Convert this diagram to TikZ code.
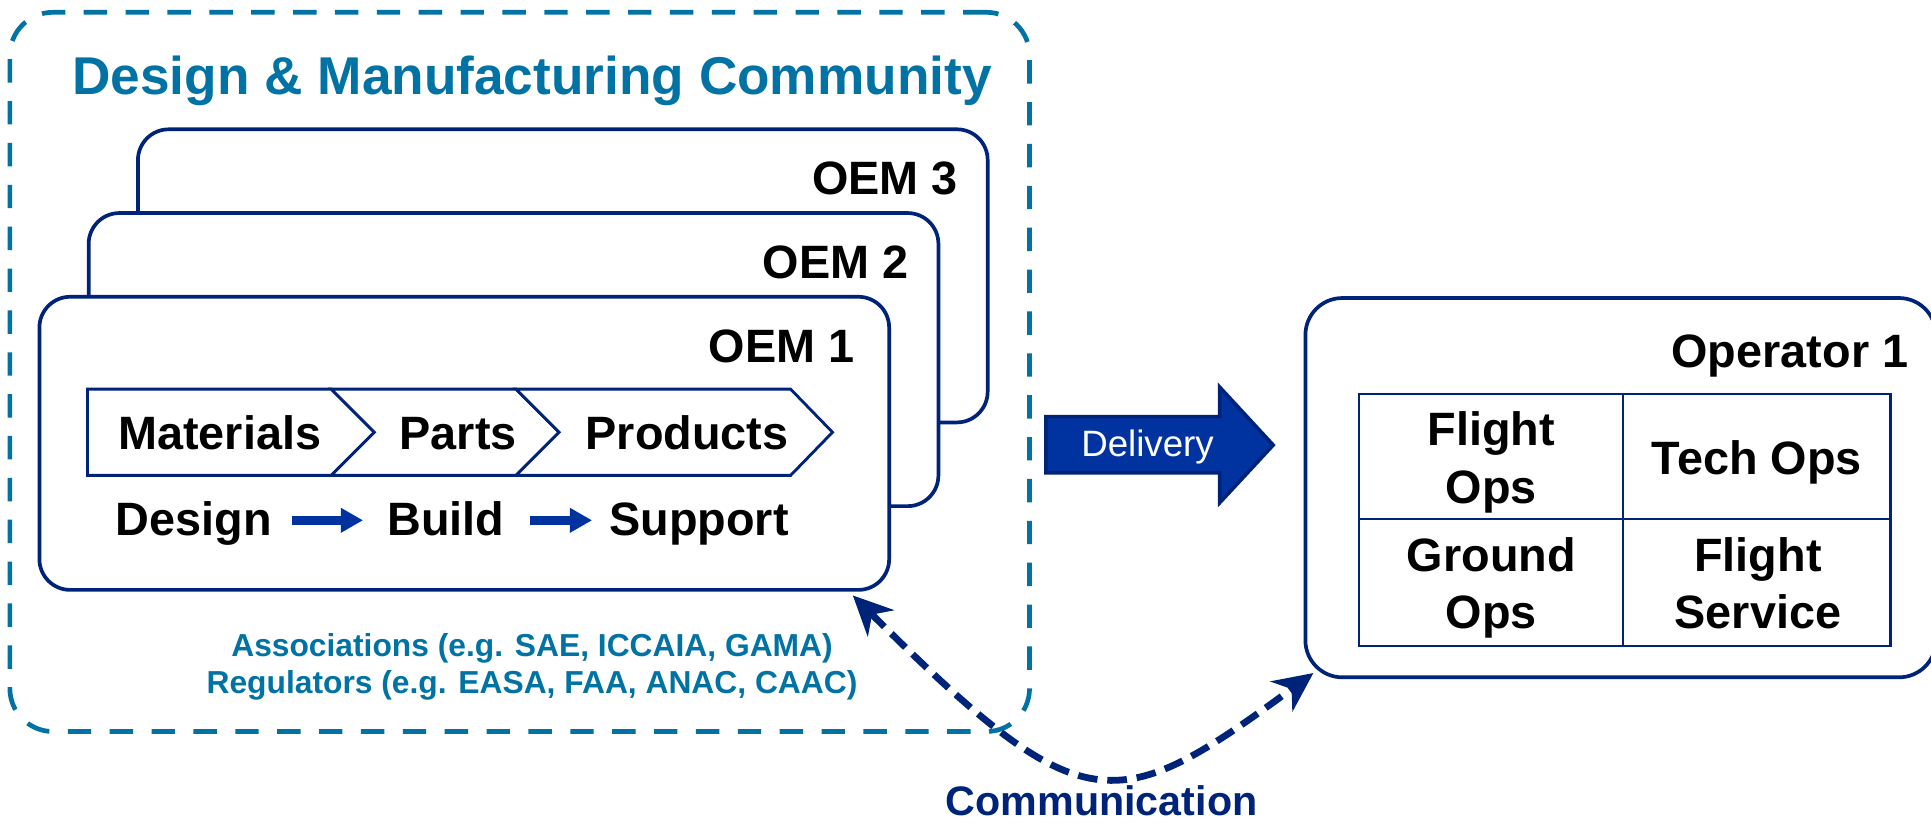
\documentclass[tikz,border=0pt]{standalone}
\usepackage{fontspec}
\setmainfont{Liberation Sans}
\usetikzlibrary{arrows.meta,calc}
\definecolor{dmteal}{HTML}{0072A3}
\definecolor{dmnavy}{HTML}{00237A}
\definecolor{dmblue}{HTML}{0033A0}
\newcommand\mystrut{\rule[-10pt]{0pt}{40pt}}
\tikzset{
  dashbox/.style={draw=dmteal, line width=3.8pt, dash pattern=on 19pt off 15pt, rounded corners=35pt,
    minimum width=828pt, minimum height=584pt, inner sep=0pt},
  oembox/.style={draw=dmnavy, line width=3pt, fill=white, rounded corners=25pt,
    minimum width=690pt, minimum height=238pt, inner sep=0pt},
  opbox/.style={draw=dmnavy, line width=3pt, fill=white, rounded corners=30pt,
    minimum width=512pt, minimum height=308pt, inner sep=0pt},
  lbl/.style={font=\fontsize{38}{46.6}\selectfont\bfseries, inner sep=0pt, text=black},
  celltxt/.style={font=\fontsize{38}{46.6}\selectfont\bfseries, inner sep=0pt, text=black, align=center},
  titletxt/.style={font=\fontsize{43.2}{50}\selectfont\bfseries, inner sep=0pt, text=dmteal},
  assoctxt/.style={font=\fontsize{25.8}{30}\selectfont\bfseries, inner sep=0pt, text=dmteal},
  chev/.style={draw=dmnavy, line width=2.3pt, fill=white, line join=miter},
  darr/.style={draw=dmblue, line width=7pt, -{Triangle[length=18pt,width=19pt]}},
  comm/.style={draw=dmnavy, line width=5.5pt, dash pattern=on 16pt off 8pt,
    {Stealth[length=32pt,width=30pt,inset=10pt]}-{Stealth[length=32pt,width=30pt,inset=10pt]}},
}
\begin{document}
\begin{tikzpicture}[x=1pt,y=-1pt]
\useasboundingbox (0,0) rectangle (1568,668);

% community frame
\node[dashbox] (dm) at (422,302) {};
\node[titletxt, anchor=base] (title) at (432,76.6) {Design \& Manufacturing Community};

% OEM stack
\node[oembox] (oem3) at (457,224) {};
\node[oembox] (oem2) at (417,292) {};
\node[oembox] (oem1) at (377,360) {};
\node[lbl, anchor=base east] (l3) at (778,158) {OEM 3};
\node[lbl, anchor=base east] (l2) at (738,226) {OEM 2};
\node[lbl, anchor=base east] (l1) at (694,294.5) {OEM 1};

% chevrons
\draw[chev] (71,316) -- (269,316) -- (304,351) -- (269,386) -- (71,386) -- cycle;
\draw[chev] (269,316) -- (419,316) -- (454,351) -- (419,386) -- (269,386) -- (304,351) -- cycle;
\draw[chev] (419,316) -- (642,316) -- (676,351) -- (642,386) -- (419,386) -- (454,351) -- cycle;
\node[lbl, anchor=base] (mat) at (178.5,365) {Materials};
\node[lbl, anchor=base] (parts) at (372,365) {Parts};
\node[lbl, anchor=base] (prod) at (558,365) {Products};

% design build support
\node[lbl, anchor=base] (design) at (157.5,435) {Design};
\node[lbl, anchor=base] (build) at (362,435) {Build};
\node[lbl, anchor=base] (support) at (567.5,435) {Support};
\coordinate (ay) at (0,422.5);
\draw[darr, shorten <=16pt, shorten >=19.5pt] (design.east |- ay) -- (build.west |- ay);
\draw[darr, shorten <=20.5pt, shorten >=13.7pt] (build.east |- ay) -- (support.west |- ay);

% associations
\node[assoctxt, anchor=base] (assoc) at (432,533) {Associations (e.g. SAE, ICCAIA, GAMA)};
\node[assoctxt, anchor=base] (reg) at (432,563) {Regulators (e.g. EASA, FAA, ANAC, CAAC)};

% delivery arrow
\draw[fill=dmblue, draw=dmnavy, line width=3pt, line join=miter]
  (849.4,338.3) -- (990.4,338.3) -- (990.4,314.4) -- (1033.8,361.4) -- (990.4,408.2) -- (990.4,383.8) -- (849.4,383.8) -- cycle;
\node[font=\fontsize{29.8}{36}\selectfont, text=white, inner sep=0pt, anchor=base] (deliv) at (931.8,370.8) {Delivery};

% operator
\node[opbox] (op) at (1316,396) {};
\node[lbl, anchor=base east] (opl) at (1549.7,298.3) {Operator 1};
\draw[dmnavy, line width=2pt] (1103.6,320) rectangle (1535,524.6)
  (1318,320) -- (1318,524.6) (1103.6,421.4) -- (1535,421.4);
\node[celltxt] (fops) at (1211,375.3) {\mystrut Flight\\\mystrut Ops};
\node[celltxt] (tops) at (1426.5,375.7) {\mystrut Tech Ops};
\node[celltxt] (gops) at (1211,477.3) {\mystrut Ground\\\mystrut Ops};
\node[celltxt] (fserv) at (1427.5,477.3) {\mystrut Flight\\\mystrut Service};

% communication
\coordinate (ca) at ([xshift=-31pt,yshift=-3pt]oem1.south east);
\coordinate (cb) at ([xshift=8pt,yshift=5pt]op.south west);
\draw[comm] (ca) .. controls (880,670) and (905,665) .. (cb);
\node[font=\fontsize{33.5}{40}\selectfont\bfseries, text=dmnavy, inner sep=0pt, anchor=base] (commtxt) at (894.5,662.5) {Communication};
\end{tikzpicture}
\end{document}
